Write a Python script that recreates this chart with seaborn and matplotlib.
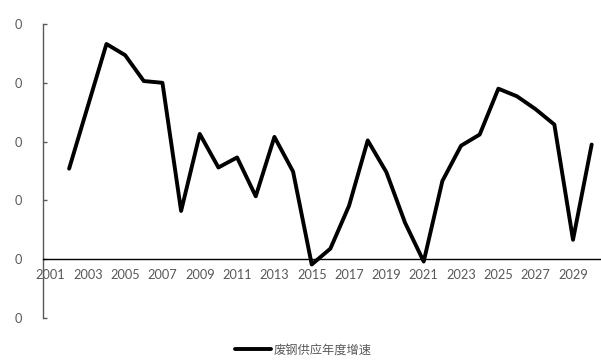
import matplotlib
matplotlib.use("Agg")
import matplotlib.pyplot as plt
import seaborn as sns
import pandas as pd

years = list(range(2002, 2031))
growth = [1.54, 2.60, 3.66, 3.47, 3.03, 3.00, 0.82, 2.13, 1.56, 1.73,
          1.07, 2.08, 1.49, -0.09, 0.18, 0.91, 2.02, 1.48, 0.62, -0.04,
          1.33, 1.93, 2.12, 2.90, 2.77, 2.55, 2.29, 0.33, 1.95]
series_name = "废钢供应年度增速"
xtick_years = list(range(2001, 2030, 2))
ytick_vals = [-1, 0, 1, 2, 3, 4]
ytick_labels = ["0"] * 6

sns.set_style("white")
plt.rcParams["font.family"] = ["Lato", "Noto Sans CJK SC", "DejaVu Sans"]

df = pd.DataFrame({"year": years, "value": growth})

fig = plt.figure(figsize=(6.01, 3.6), dpi=100)
ax = fig.add_axes([43 / 601, 1 - 318 / 360, 1 - 43 / 601, (318 - 24) / 360])

sns.lineplot(data=df, x="year", y="value", ax=ax, color="black",
             linewidth=2.8, label=series_name, legend=False)

ax.set_xlim(2000.6, 2030.5)
ax.set_ylim(-1, 4)
ax.set_xlabel("")
ax.set_ylabel("")

for s in ["top", "right"]:
    ax.spines[s].set_visible(False)
ax.spines["left"].set_color("#595959")
ax.spines["left"].set_linewidth(1.0)
ax.spines["bottom"].set_position(("data", 0))
ax.spines["bottom"].set_color("black")
ax.spines["bottom"].set_linewidth(1.0)

ax.set_xticks(xtick_years)
ax.set_xticklabels([str(y) for y in xtick_years])
ax.tick_params(axis="x", length=0, pad=7, labelsize=9.2, labelcolor="#595959")
ax.set_yticks(ytick_vals)
ax.set_yticklabels(ytick_labels)
ax.tick_params(axis="y", direction="in", length=3, width=1, color="#595959",
               pad=15, labelsize=9.2, labelcolor="#595959", left=True)

handles, labels = ax.get_legend_handles_labels()
leg = fig.legend(handles, labels, loc="center", bbox_to_anchor=(0.505, 1 - 350 / 360),
                 frameon=False, handlelength=2.9, handletextpad=0.25,
                 prop={"family": ["Noto Sans CJK SC", "DejaVu Sans"], "size": 8.8})
for t in leg.get_texts():
    t.set_color("#595959")

fig.savefig("out.png", dpi=100)
